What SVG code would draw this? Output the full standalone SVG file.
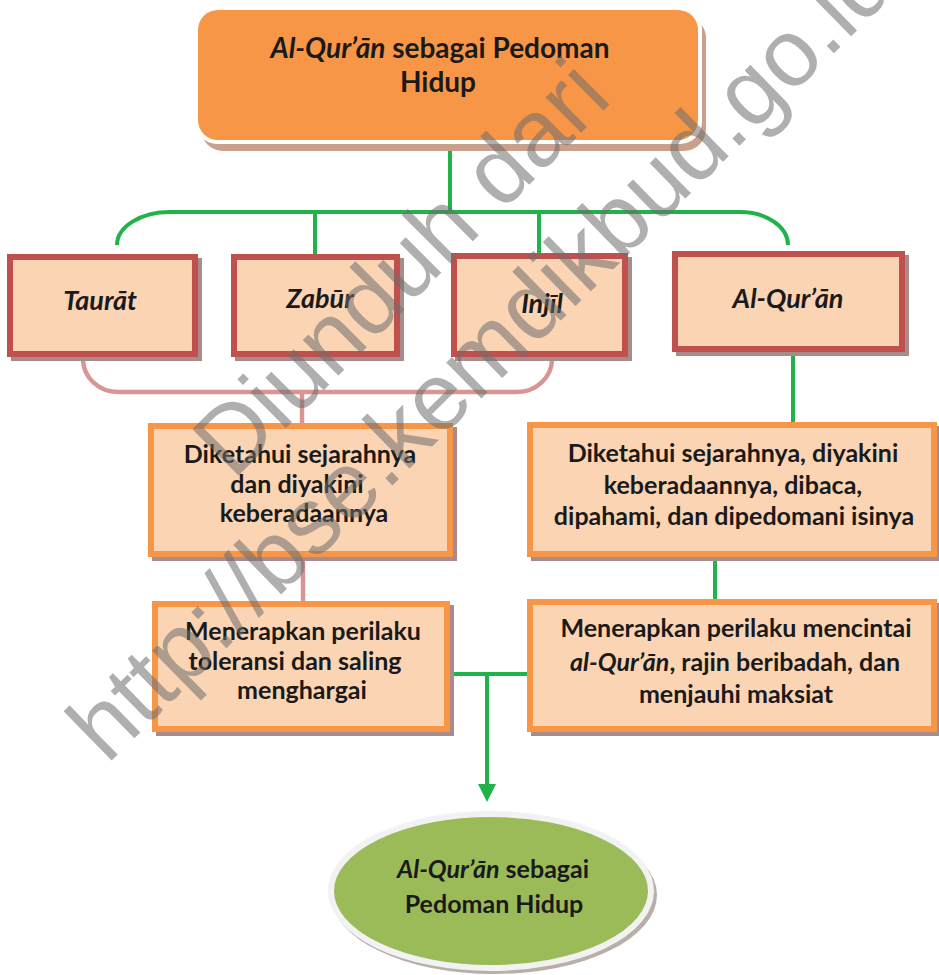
<svg xmlns="http://www.w3.org/2000/svg" width="939" height="975" viewBox="0 0 939 975">
<style>
.t{font-family:Lato,"Open Sans","Liberation Sans",sans-serif;font-weight:bold;fill:#1a1a1a;text-anchor:middle}
.i{font-style:italic}
.rb{fill:#FBD4B4;stroke:#C0504D;stroke-width:6}
.ob{fill:#FBD4B4;stroke:#F79646;stroke-width:6}
.sh{fill:#A88C8C}
.g{fill:none;stroke:#21B24B;stroke-width:4}
.p{fill:none;stroke:#D99594;stroke-width:4.5}
.wm{font-family:"Liberation Sans",Arial,sans-serif;font-size:95px;fill:#6E6E6E;fill-opacity:0.55}
</style>
<rect width="939" height="975" fill="#ffffff"/>
<g id="connectors">
<path class="g" d="M450 148 V212"/>
<path class="g" d="M117 245 A53 33 0 0 1 170 212 H740 A48 33 0 0 1 788 245"/>
<path class="g" d="M315 212 V254"/>
<path class="g" d="M539 212 V253"/>
<path class="g" d="M793 355 V422"/>
<path class="g" d="M715 560 V600"/>
<path class="g" d="M450 674 H530"/>
<path class="g" d="M487 674 V786"/>
<polygon points="478,784 496,784 487,802" fill="#21B24B"/>
<path class="p" d="M83 360 A35 33 0 0 0 118 392 H517 A35 33 0 0 0 552 360"/>
<path class="p" d="M302 392 V424"/>
<path class="p" d="M303 561 V602"/>
</g>
<g id="top">
<rect x="201" y="16" width="505" height="135" rx="22" fill="#C9A08C"/>
<rect x="195" y="7" width="507" height="137" rx="22" fill="#ffffff"/>
<rect x="198" y="10" width="500" height="130" rx="20" fill="#F79646"/>
<text class="t" x="440" y="58" font-size="28"><tspan class="i">Al-Qur’ān</tspan> sebagai Pedoman</text>
<text class="t" x="438" y="92" font-size="28">Hidup</text>
</g>
<g id="taurat">
<rect class="sh" x="11" y="258" width="191" height="103"/>
<rect class="rb" x="10" y="257" width="185" height="97"/>
<text class="t i" x="100" y="310" font-size="27">Taurāt</text>
</g>
<g id="zabur">
<rect class="sh" x="235" y="258" width="169" height="103"/>
<rect class="rb" x="234" y="257" width="163" height="97"/>
<text class="t i" x="320" y="308" font-size="27">Zabūr</text>
</g>
<g id="injil">
<rect class="sh" x="455" y="257" width="177" height="104"/>
<rect class="rb" x="454" y="256" width="171" height="98"/>
<text class="t i" x="542" y="313" font-size="27">Injīl</text>
</g>
<g id="alquran">
<rect class="sh" x="676" y="255" width="233" height="101"/>
<rect class="rb" x="675" y="254" width="227" height="95"/>
<text class="t i" x="788" y="308" font-size="27">Al-Qur’ān</text>
</g>
<g id="diketahui-left">
<rect class="sh" x="152" y="427" width="305" height="134"/>
<rect class="ob" x="151" y="426" width="299" height="128"/>
<text class="t" font-size="25"><tspan x="300" y="463">Diketahui sejarahnya</tspan><tspan x="297" y="493">dan diyakini</tspan><tspan x="304" y="522">keberadaannya</tspan></text>
</g>
<g id="menerapkan-left">
<rect class="sh" x="156" y="605" width="298" height="131"/>
<rect class="ob" x="155" y="604" width="292" height="125"/>
<text class="t" font-size="25"><tspan x="303" y="640">Menerapkan perilaku</tspan><tspan x="295" y="670">toleransi dan saling</tspan><tspan x="302" y="699">menghargai</tspan></text>
</g>
<g id="diketahui-right">
<rect class="sh" x="531" y="426" width="410" height="135"/>
<rect class="ob" x="530" y="425" width="404" height="129"/>
<text class="t" font-size="25"><tspan x="733" y="462">Diketahui sejarahnya, diyakini</tspan><tspan x="733" y="494">keberadaannya, dibaca,</tspan><tspan x="734" y="525">dipahami, dan dipedomani isinya</tspan></text>
</g>
<g id="menerapkan-right">
<rect class="sh" x="531" y="603" width="410" height="133"/>
<rect class="ob" x="530" y="602" width="404" height="127"/>
<text class="t" font-size="25"><tspan x="736" y="637">Menerapkan perilaku mencintai</tspan><tspan x="735" y="671"><tspan class="i">al-Qur’ān</tspan>, rajin beribadah, dan</tspan><tspan x="736" y="703">menjauhi maksiat</tspan></text>
</g>
<g id="result">
<ellipse cx="494" cy="895" rx="163" ry="79" fill="#B9AFA8"/>
<ellipse cx="491" cy="891" rx="160" ry="77" fill="#9BBB59" stroke="#F2F2F2" stroke-width="6"/>
<text class="t" font-size="25"><tspan x="493" y="878"><tspan class="i">Al-Qur’ān</tspan> sebagai</tspan><tspan x="494" y="913">Pedoman Hidup</tspan></text>
</g>
<g id="watermark">
<text class="wm" transform="translate(233,481) rotate(-45)">Diunduh dari</text>
<text class="wm" transform="translate(107,765) rotate(-44.4)">http://bse.kemdikbud.go.id</text>
</g>
</svg>
